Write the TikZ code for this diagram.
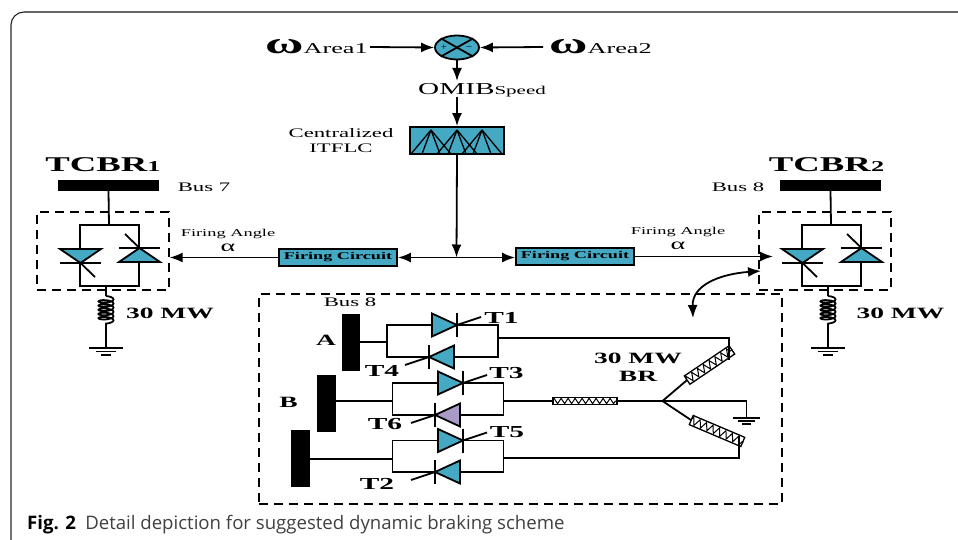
\documentclass[tikz,border=0pt]{standalone}
\usepackage{fontspec}
\setmainfont{Liberation Serif}
\newfontfamily\wfont[FakeStretch=1.75]{Liberation Serif}
\newfontfamily\capfont{Open Sans}
\usetikzlibrary{arrows.meta,decorations.pathmorphing,shapes.geometric}
\definecolor{tealfill}{HTML}{45A9C4}
\definecolor{purplefill}{HTML}{A99BC6}
\tikzset{
  >={Latex[length=13pt,width=10pt]},
  wire/.style={line width=1.8pt},
  dbox/.style={draw,line width=1.2pt,dash pattern=on 9pt off 6pt,inner sep=0pt},
  busbar/.style={fill=black,inner sep=0pt},
  firebox/.style={draw,line width=1.8pt,fill=tealfill,inner sep=0pt,minimum width=118pt,minimum height=17pt,font=\wfont\bfseries\fontsize{10.4}{10.4}\selectfont},
  tlabel/.style={inner sep=0pt,font=\wfont\bfseries\fontsize{16.8}{16.8}\selectfont},
  boldlabel/.style={inner sep=0pt,align=center,font=\wfont\bfseries\fontsize{15.7}{18}\selectfont},
  plain/.style={inner sep=0pt,font=\wfont\fontsize{10.5}{13}\selectfont,align=center},
  buslabel/.style={inner sep=0pt,font=\wfont\fontsize{13}{15}\selectfont,align=center},
  rbox/.style={draw,line width=1.3pt,inner sep=0pt},
  zz/.style={line width=1pt,decorate,decoration={zigzag,segment length=7pt,amplitude=2.5pt}}
}
\begin{document}
\begin{tikzpicture}[x=1pt,y=-1pt]
  \useasboundingbox (0,0) rectangle (958,540);
  % frame
  \draw[line width=1.2pt,color=black!60] (958,12) -- (24,12);
  \draw[line width=1.1pt,color=black!85,rounded corners=13pt] (24,12) -- (11,12) -- (11,540);
  \node[anchor=west,inner sep=0pt,text=black!75,font=\capfont\fontsize{18.6}{20}\selectfont] (cap) at (27,525) {\textcolor{black}{\textbf{Fig. 2}}\enspace Detail depiction for suggested dynamic braking scheme};
  % speed signal part
  \node[draw,wire,fill=tealfill,ellipse,minimum width=44pt,minimum height=24pt,inner sep=0pt] (sum) at (457,47.5) {};
  \draw[wire] (sum.north west) -- (sum.south east);
  \draw[wire] (sum.north east) -- (sum.south west);
  \node[inner sep=0pt,font=\fontsize{10}{10}\selectfont] (plus) at (444,48) {+};
  \node[inner sep=0pt,font=\fontsize{10}{10}\selectfont] (minus) at (469,48) {--};
  \node[anchor=west,inner sep=0pt] (w1) at (265,47) {{\wfont\bfseries\fontsize{30}{30}\selectfont ω}{\wfont\fontsize{15}{15}\selectfont Area1}};
  \node[anchor=west,inner sep=0pt] (w2) at (549,47) {{\wfont\bfseries\fontsize{30}{30}\selectfont ω}{\wfont\fontsize{15}{15}\selectfont Area2}};
  \coordinate (w1end) at (370,47);
  \coordinate (w2end) at (543,47);
  \draw[wire,->] (w1end) -- (sum.west);
  \draw[wire,->] (w2end) -- (sum.east);
  \node[inner sep=0pt] (omib) at (482,90) {{\wfont\fontsize{16.7}{16.7}\selectfont OMIB}{\wfont\fontsize{12}{12}\selectfont Speed}};
  \coordinate (omibtop) at (457,81);
  \coordinate (omibbot) at (457,97);
  \draw[wire,->] (sum.south) -- (omibtop);
  \node[draw,wire,fill=tealfill,minimum width=94pt,minimum height=27pt,inner sep=0pt] (flc) at (457,140.5) {};
  \draw[wire,->] (omibbot) -- (flc.north);
  \foreach \p in {431,457,482} {
    \foreach \b in {-20,-9,9,20} {
      \draw[line width=1.3pt] (\p,130) -- (\p+\b,154);
    }
  };
  \node[buslabel] (itflc) at (341,141) {Centralized\\ITFLC};
  % firing circuits
  \coordinate (junc) at (456.5,257.5);
  \draw[wire,->] (flc.south) -- (junc);
  \node[firebox] (fc1) at (338,257.5) {Firing Circuit};
  \node[firebox] (fc2) at (575,256.5) {Firing Circuit};
  \draw[wire,->] (junc) -- (fc1.east);
  \draw[wire,->] (junc) -- (fc1.east -| fc2.west);
  \node[plain] (fa1) at (228,234) {Firing Angle};
  \node[plain,font=\wfont\fontsize{16}{16}\selectfont] (al1) at (228,248) {α};
  \node[plain] (fa2) at (678,232) {Firing Angle};
  \node[plain,font=\wfont\fontsize{16}{16}\selectfont] (al2) at (678,246) {α};
  % TCBR cells
  \foreach \n/\o in {1/0,2/722} {
    \begin{scope}[xshift=\o pt]
      \node[dbox,minimum width=132pt,minimum height=78pt] (tb\n) at (103,251) {};
      \node[busbar,minimum width=101pt,minimum height=11pt] (bar\n) at (108,185.5) {};
      \draw[wire] (80,286) rectangle (139,225);
      \draw[wire] (bar\n.south) ++(.5,0) -- (109,225);
      \draw[wire,fill=tealfill] (60,249) -- (101,249) -- (80.5,263) -- cycle;
      \draw[wire] (60,263) -- (101,263);
      \draw[wire] (80.5,263) -- (95,277);
      \draw[wire,fill=tealfill] (119,262) -- (160,262) -- (139.5,248) -- cycle;
      \draw[wire] (119,248) -- (160,248);
      \draw[wire] (139.5,248) -- (125,234);
      \coordinate (rtop\n) at (106,286);
      \coordinate (coil\n) at (106,296);
      \coordinate (coilb\n) at (106,326);
      \coordinate (gnd\n) at (106,348);
      \draw[wire] (rtop\n) -- (coil\n);
      \draw[wire,decorate,decoration={coil,aspect=0.3,segment length=4.2pt,amplitude=7.5pt}] (coil\n) -- (coilb\n);
      \draw[wire] (coilb\n) -- (gnd\n);
      \draw[wire] (89,348) -- (123,348);
      \draw[wire] (96,351.5) -- (116,351.5);
      \draw[wire] (101,355) -- (111,355);
    \end{scope}
  };
  \draw[wire,->] (fc1.west) -- (tb1.east |- fc1.west);
  \coordinate (tgt2) at (773,256.5);
  \draw[wire,->] (fc2.east) -- (tgt2);
  \node[tlabel,font=\wfont\bfseries\fontsize{21}{21}\selectfont] (tc1) at (103,165) {TCBR{\fontsize{15}{15}\selectfont 1}};
  \node[tlabel,font=\wfont\bfseries\fontsize{21}{21}\selectfont] (tc2) at (826.5,165) {TCBR{\fontsize{15}{15}\selectfont 2}};
  \node[buslabel] (bus7) at (204,187) {Bus 7};
  \node[buslabel] (bus8) at (738,187) {Bus 8};
  \node[boldlabel] (mw1) at (170,313) {30 MW};
  \node[boldlabel] (mw2) at (900.5,313) {30 MW};
  % braking resistor detail
  \node[dbox,minimum width=523pt,minimum height=210pt] (detail) at (520.5,399) {};
  \node[buslabel] (bus8b) at (350,302) {Bus 8};
  \node[busbar,minimum width=18pt,minimum height=57pt] (pa) at (351,342.5) {};
  \node[busbar,minimum width=19pt,minimum height=57pt] (pb) at (326.5,403.5) {};
  \node[busbar,minimum width=19pt,minimum height=57pt] (pc) at (300.5,458.5) {};
  \node[boldlabel] (la) at (326,340) {A};
  \node[boldlabel] (lb) at (288.5,402) {B};
  \coordinate (hub) at (662.5,401);
  \foreach \x/\yt/\yb in {387/325/357,392.5/383/415,392.5/440.5/472} {
    \draw[wire] (\x,\yt) rectangle (\x+111,\yb);
  };
  \draw[wire] (pa.east |- 0,342) -- (387,342);
  \draw[wire] (pb.east |- 0,401) -- (392.5,401);
  \draw[wire] (pc.east |- 0,459) -- (392.5,459);
  \foreach \ax/\ay/\d/\col in {457/325/1/tealfill,429/357/-1/tealfill,463/383/1/tealfill,435/415/-1/purplefill,463/440.5/1/tealfill,435/472/-1/tealfill} {
    \draw[wire,fill=\col] (\ax,\ay) -- ++(-25*\d,-11.5) -- ++(0,23) -- cycle;
    \draw[wire] (\ax,\ay-12) -- (\ax,\ay+12);
    \draw[wire] (\ax,\ay) -- ++(24*\d,-8*\d);
  };
  \foreach \n/\x/\y in {T1/501.5/318,T4/382/371,T3/506.5/373,T6/385/424,T5/507/432,T2/377/484} {
    \node[tlabel] (\n) at (\x,\y) {\n};
  };
  \node[boldlabel] (brl) at (638,367) {30 MW\\BR};
  % resistors
  \foreach \n/\x/\y/\r/\l/\h in {rb/585/401/0/64/7,ra/709.5/365/34/54/10,rc/717/431/-23/56/10} {
    \node[rbox,rotate=\r,minimum width=\l pt,minimum height=\h pt] (\n) at (\x,\y) {};
    \draw[zz,decoration={amplitude=\h/2.6}] (\n.west) -- (\n.east);
  };
  \coordinate (aout) at (729,338);
  \coordinate (cout) at (739,458);
  \draw[wire] (498,338) -- (aout) -- (aout |- ra.north);
  \draw[wire] (503.5,458) -- (cout) -- (cout |- rc.south);
  \draw[wire] (503.5,401) -- (rb.west);
  \draw[wire] (rb.east) -- (hub);
  \draw[wire] (hub) -- (ra.west);
  \draw[wire] (hub) -- (rc.west);
  \coordinate (gnd3) at (746.5,418);
  \draw[wire] (hub) -| (gnd3);
  \draw[wire] (733,418) -- (760,418);
  \draw[wire] (738,421) -- (755,421);
  \draw[wire] (742,424) -- (751,424);
  % pointer arrow
  \coordinate (ptra) at (761,271);
  \coordinate (ptrb) at (693,318);
  \draw[wire,<->] (ptra) .. controls (720,274) and (692,285) .. (ptrb);
\end{tikzpicture}
\end{document}
